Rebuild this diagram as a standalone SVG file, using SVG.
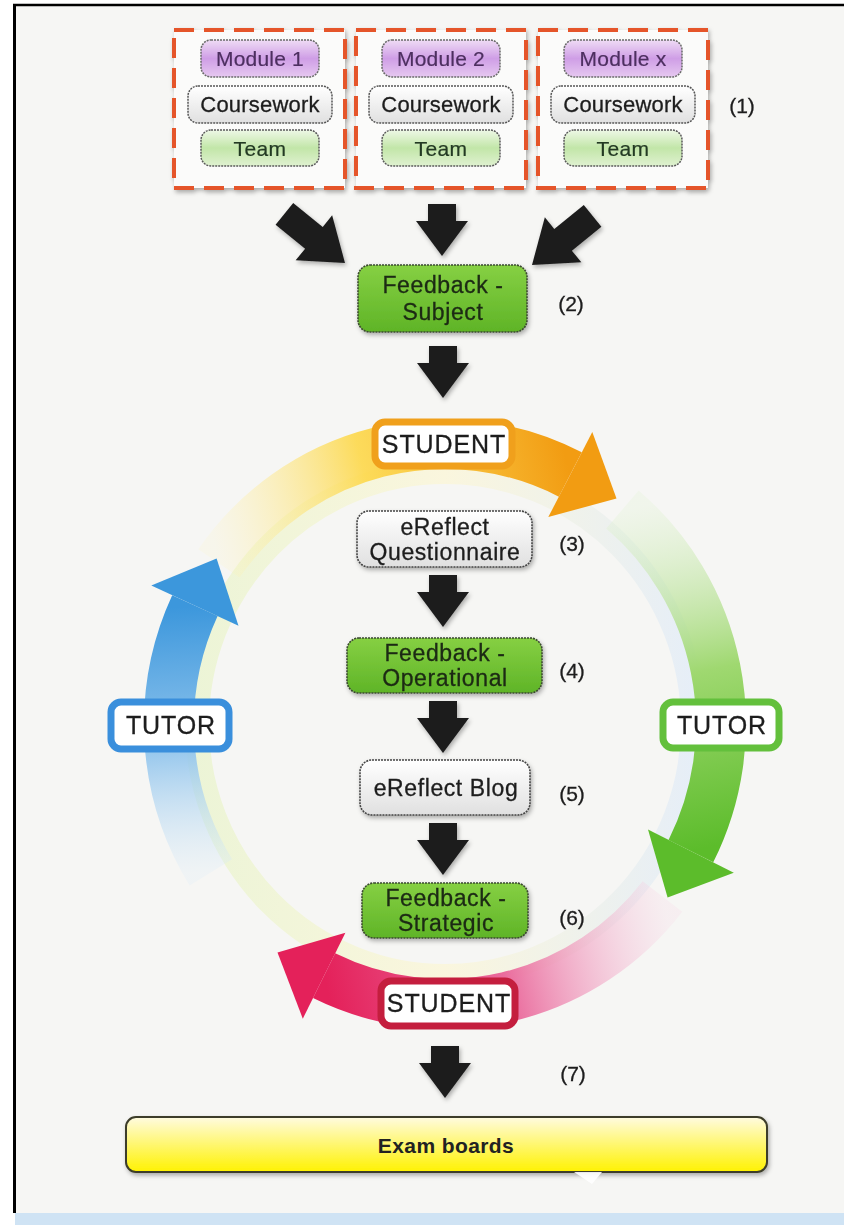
<svg xmlns="http://www.w3.org/2000/svg" width="844" height="1225" viewBox="0 0 844 1225">
<style>
text{font-family:"Liberation Sans",Arial,sans-serif;text-anchor:middle;fill:#1d1d1d;stroke:#1d1d1d;stroke-width:0.3}
.frame{fill:#fbfbfa;stroke:#e5552b;stroke-width:4;stroke-dasharray:20 10}
.mod{fill:url(#gPurple);stroke:#6a6a6a;stroke-width:1.5;stroke-dasharray:2 1}
.cw{fill:url(#gGray);stroke:#555;stroke-width:1.5;stroke-dasharray:2 1}
.team{fill:url(#gLGreen);stroke:#5a5a5a;stroke-width:1.5;stroke-dasharray:2 1}
.fb{fill:url(#gGreen);stroke:#3b4a30;stroke-width:1.6;stroke-dasharray:2 1}
.er{fill:url(#gGray);stroke:#444;stroke-width:1.6;stroke-dasharray:2 1}
.lbl{fill:#fff;stroke-width:7}
.num{font-size:21px}
.t22{font-size:23px;letter-spacing:0.6px}
.gt{fill:#1c2a14;stroke:#1c2a14}
.big{font-size:25px;letter-spacing:0.9px}
.mt{font-size:21px;letter-spacing:0.2px;fill:#4d2f60;stroke:#4d2f60;stroke-width:0.2}
.ct{font-size:22px;letter-spacing:0.2px}
.tt{font-size:21px;letter-spacing:0.4px;fill:#233a23;stroke:#233a23;stroke-width:0.2}
.blk{fill:#1e1e1e}
</style>
<defs>
<linearGradient id="gPurple" x1="0" y1="0" x2="0" y2="1"><stop offset="0" stop-color="#efdcf5"/><stop offset="0.5" stop-color="#cf9ee6"/><stop offset="1" stop-color="#e6c8f0"/></linearGradient>
<linearGradient id="gGray" x1="0" y1="0" x2="0" y2="1"><stop offset="0" stop-color="#ffffff"/><stop offset="1" stop-color="#e0e0e0"/></linearGradient>
<linearGradient id="gLGreen" x1="0" y1="0" x2="0" y2="1"><stop offset="0" stop-color="#eef8e6"/><stop offset="0.5" stop-color="#c2e6a8"/><stop offset="1" stop-color="#dff1d0"/></linearGradient>
<linearGradient id="gGreen" x1="0" y1="0" x2="0" y2="1"><stop offset="0" stop-color="#86d043"/><stop offset="1" stop-color="#5fb427"/></linearGradient>
<linearGradient id="gYellow" x1="0" y1="0" x2="0" y2="1"><stop offset="0" stop-color="#fffbe0"/><stop offset="0.45" stop-color="#fff77a"/><stop offset="1" stop-color="#fff200"/></linearGradient>
<linearGradient id="gOrange" gradientUnits="userSpaceOnUse" x1="219" y1="563" x2="570" y2="474"><stop offset="0" stop-color="#fff4b8" stop-opacity="0.15"/><stop offset="0.45" stop-color="#fdd84a" stop-opacity="0.9"/><stop offset="1" stop-color="#f29c12"/></linearGradient>
<linearGradient id="gGArc" gradientUnits="userSpaceOnUse" x1="622" y1="510" x2="691" y2="851"><stop offset="0" stop-color="#e3f3d6" stop-opacity="0.3"/><stop offset="0.5" stop-color="#9fd870"/><stop offset="1" stop-color="#5cbc2b"/></linearGradient>
<linearGradient id="gRed" gradientUnits="userSpaceOnUse" x1="662" y1="896" x2="324" y2="976"><stop offset="0" stop-color="#f8cfe3" stop-opacity="0.2"/><stop offset="0.5" stop-color="#ea6a9c"/><stop offset="1" stop-color="#e4215a"/></linearGradient>
<linearGradient id="gBlue" gradientUnits="userSpaceOnUse" x1="211" y1="872" x2="195" y2="606"><stop offset="0" stop-color="#dcecf8" stop-opacity="0.25"/><stop offset="0.5" stop-color="#8cc2ec"/><stop offset="1" stop-color="#3c97dc"/></linearGradient>
<linearGradient id="gRing" x1="0" y1="0" x2="1" y2="0"><stop offset="0" stop-color="#eaf4cf"/><stop offset="0.5" stop-color="#fbf6d8"/><stop offset="1" stop-color="#e2ecf8"/></linearGradient>
<filter id="sh" x="-10%" y="-10%" width="130%" height="140%"><feDropShadow dx="1.5" dy="2.5" stdDeviation="2" flood-color="#000" flood-opacity="0.3"/></filter>
<path id="dn" d="M-14,-52 H14 V-35 H26 L0,0 L-26,-35 H-14 Z"/>
<path id="dg" d="M-14,-78 H14 V-40 H29 L0,0 L-29,-40 H-14 Z"/>
</defs>

<rect x="0" y="0" width="844" height="1225" fill="#ffffff"/>
<rect x="15" y="6" width="829" height="1207" fill="#f6f6f4"/>
<rect x="15" y="1213" width="829" height="12" fill="#cfe3f4"/>
<line x1="14.5" y1="4" x2="14.5" y2="1213" stroke="#000" stroke-width="3"/>
<line x1="13" y1="5" x2="844" y2="5" stroke="#000" stroke-width="2.5"/>

<g id="ring">
<ellipse cx="445" cy="724" rx="248" ry="252" fill="none" stroke="url(#gRing)" stroke-width="24" opacity="0.8"/>
</g>

<g id="connectors">
<path d="M218.9,563.4 A276,280 0 0 1 570.3,474.5" fill="none" stroke="url(#gOrange)" stroke-width="50"/>
<polygon points="548.3,517.1 592.3,431.9 616.5,498.4" fill="#f29c12"/>
<path d="M622.4,509.5 A276,280 0 0 1 690.9,851.1" fill="none" stroke="url(#gGArc)" stroke-width="50"/>
<polygon points="648,829.5 733.8,872.7 667.6,897.6" fill="#5cbc2b"/>
<path d="M662.5,896.5 A276,280 0 0 1 324.1,975.7" fill="none" stroke="url(#gRed)" stroke-width="50"/>
<polygon points="345.4,932.7 302.8,1018.7 277.5,952.6" fill="#e4215a"/>
<path d="M210.9,872.4 A276,280 0 0 1 194.9,605.6" fill="none" stroke="url(#gBlue)" stroke-width="50"/>
<polygon points="238.5,625.7 151.3,585.5 216.6,558.4" fill="#3c97dc"/>

<g class="blk" filter="url(#sh)">
<use href="#dg" transform="translate(345,263) rotate(-51)"/>
<use href="#dn" transform="translate(442,256)"/>
<use href="#dg" transform="translate(532,265) rotate(51)"/>
<use href="#dn" transform="translate(443,398)"/>
<use href="#dn" transform="translate(443,627)"/>
<use href="#dn" transform="translate(443,753)"/>
<use href="#dn" transform="translate(443,875)"/>
<use href="#dn" transform="translate(445,1098)"/>
</g>
</g>

<g id="module1">
<rect class="frame" x="174" y="30" width="171" height="158" filter="url(#sh)"/>
<rect class="mod" x="201" y="40" width="118" height="37" rx="10"/>
<text class="mt" x="260" y="66">Module 1</text>
<rect class="cw" x="188" y="86" width="144" height="37" rx="10"/>
<text class="ct" x="260" y="112">Coursework</text>
<rect class="team" x="201" y="130" width="118" height="36" rx="10"/>
<text class="tt" x="260" y="156">Team</text>
</g>
<g id="module2">
<rect class="frame" x="356" y="30" width="170" height="158" filter="url(#sh)"/>
<rect class="mod" x="382" y="40" width="118" height="37" rx="10"/>
<text class="mt" x="441" y="66">Module 2</text>
<rect class="cw" x="369" y="86" width="144" height="37" rx="10"/>
<text class="ct" x="441" y="112">Coursework</text>
<rect class="team" x="382" y="130" width="118" height="36" rx="10"/>
<text class="tt" x="441" y="156">Team</text>
</g>
<g id="modulex">
<rect class="frame" x="538" y="30" width="170" height="158" filter="url(#sh)"/>
<rect class="mod" x="564" y="40" width="118" height="37" rx="10"/>
<text class="mt" x="623" y="66">Module x</text>
<rect class="cw" x="551" y="86" width="144" height="37" rx="10"/>
<text class="ct" x="623" y="112">Coursework</text>
<rect class="team" x="564" y="130" width="118" height="36" rx="10"/>
<text class="tt" x="623" y="156">Team</text>
</g>
<g id="step1"><text class="num" x="742" y="113">(1)</text></g>

<g id="feedback-subject">
<rect class="fb" x="358" y="265" width="169" height="67" rx="12" filter="url(#sh)"/>
<text class="t22 gt" x="443" y="293">Feedback -</text>
<text class="t22 gt" x="443" y="320">Subject</text>
<text class="num" x="571" y="311">(2)</text>
</g>

<g id="student-top">
<rect class="lbl" x="375" y="422" width="137" height="44" rx="10" stroke="#f0a01c"/>
<text class="big" x="444" y="453">STUDENT</text>
</g>

<g id="ereflect-questionnaire">
<rect class="er" x="357" y="511" width="175" height="56" rx="12" filter="url(#sh)"/>
<text class="t22" x="445" y="535">eReflect</text>
<text class="t22" x="445" y="560">Questionnaire</text>
<text class="num" x="572" y="551">(3)</text>
</g>

<g id="feedback-operational">
<rect class="fb" x="347" y="638" width="195" height="55" rx="12" filter="url(#sh)"/>
<text class="t22 gt" x="445" y="661">Feedback -</text>
<text class="t22 gt" x="445" y="686">Operational</text>
<text class="num" x="572" y="678">(4)</text>
</g>

<g id="tutor-left">
<rect class="lbl" x="111" y="702" width="118" height="47" rx="10" stroke="#3a8fdc"/>
<text class="big" x="171" y="734">TUTOR</text>
</g>
<g id="tutor-right">
<rect class="lbl" x="663" y="702" width="116" height="46" rx="10" stroke="#63c03c"/>
<text class="big" x="722" y="734">TUTOR</text>
</g>

<g id="ereflect-blog">
<rect class="er" x="360" y="760" width="170" height="55" rx="12" filter="url(#sh)"/>
<text class="t22" x="446" y="796">eReflect Blog</text>
<text class="num" x="572" y="801">(5)</text>
</g>

<g id="feedback-strategic">
<rect class="fb" x="362" y="883" width="166" height="55" rx="12" filter="url(#sh)"/>
<text class="t22 gt" x="446" y="906">Feedback -</text>
<text class="t22 gt" x="446" y="931">Strategic</text>
<text class="num" x="572" y="925">(6)</text>
</g>

<g id="student-bottom">
<rect class="lbl" x="381" y="981" width="134" height="45" rx="10" stroke="#c41e3e"/>
<text class="big" x="449" y="1012">STUDENT</text>
</g>

<g id="step7"><text class="num" x="573" y="1081">(7)</text></g>

<g id="exam-boards">
<rect x="126" y="1117" width="641" height="55" rx="10" fill="url(#gYellow)" stroke="#3e3e2a" stroke-width="2" filter="url(#sh)"/>
<polygon points="574,1172 602,1172 592,1184" fill="#ffffff" opacity="0.9"/>
<text x="446" y="1153" style="font-size:21px;font-weight:bold;letter-spacing:0.4px;fill:#222;stroke:none">Exam boards</text>
</g>
</svg>
